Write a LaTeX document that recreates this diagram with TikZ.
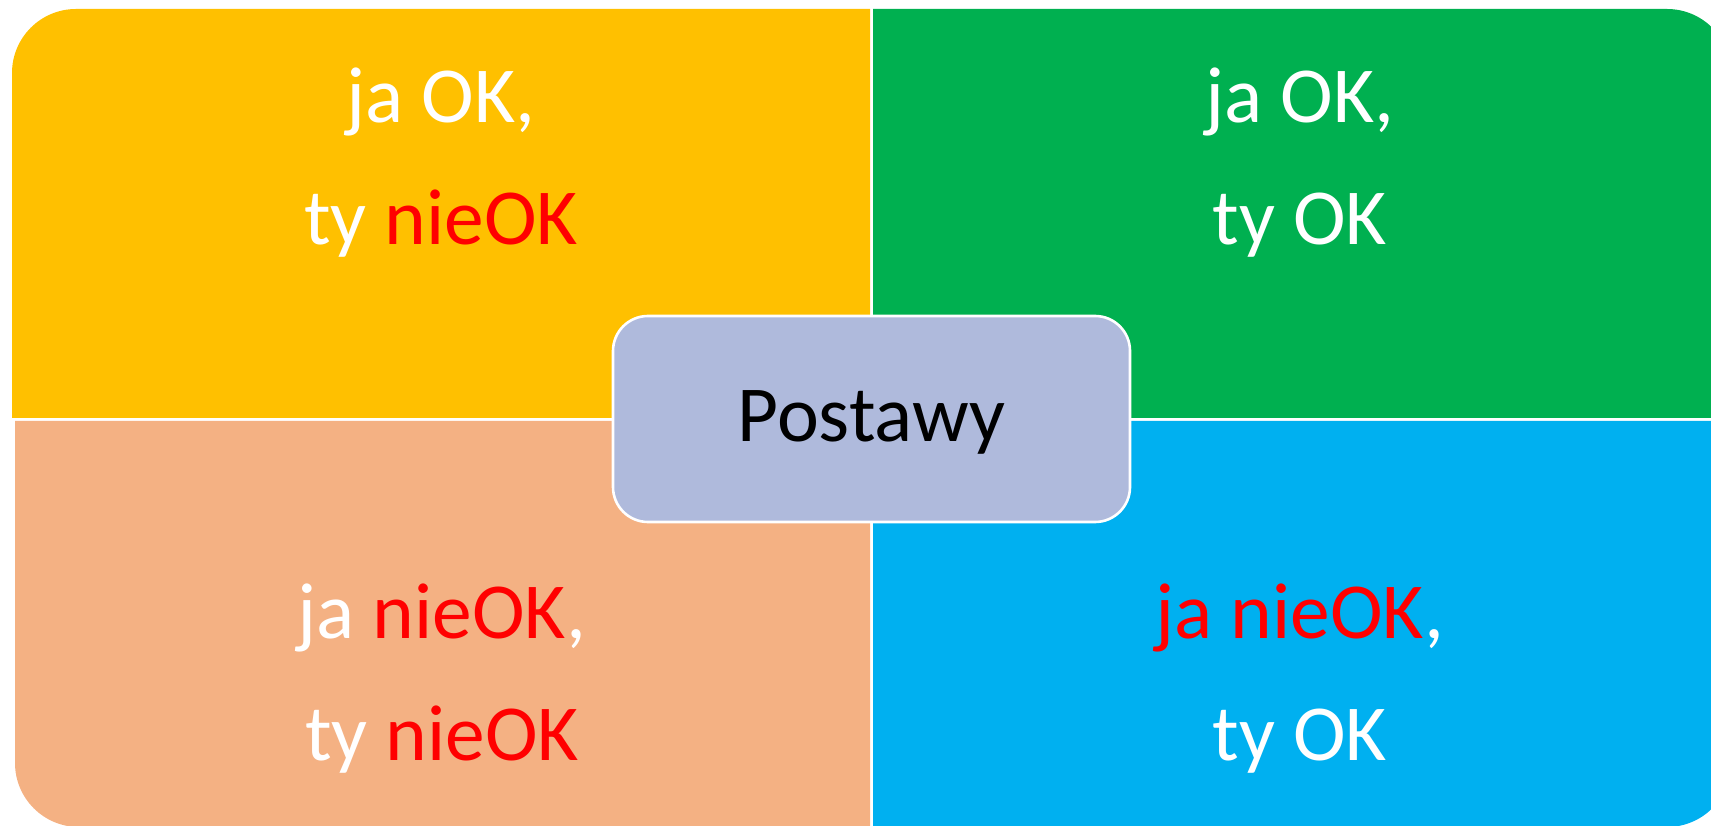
\documentclass[tikz,border=0pt]{standalone}
\usepackage{fontspec}
\setmainfont{Carlito}
\definecolor{qyellow}{HTML}{FFC000}
\definecolor{qgreen}{HTML}{00B050}
\definecolor{qpeach}{HTML}{F4B183}
\definecolor{qblue}{HTML}{00B0F0}
\definecolor{qcenter}{HTML}{AFBADC}
\definecolor{qred}{HTML}{FF0000}
\tikzset{
  qtext/.style={anchor=base, inner sep=0pt, text=white, font=\fontsize{39.7pt}{40pt}\selectfont},
  ctext/.style={anchor=base, inner sep=0pt, text=black, font=\fontsize{39.7pt}{40pt}\selectfont},
  cbox/.style={rectangle, rounded corners=17.5pt, fill=qcenter, draw=white, line width=1.3pt,
    minimum width=258.5pt, minimum height=103pt, inner sep=0pt}
}
\newcommand{\rd}[1]{\textcolor{qred}{#1}}
\begin{document}
\begin{tikzpicture}[x=0.5pt,y=0.5pt]
\useasboundingbox (0,0) rectangle (1711,825);
\clip (0,0) rectangle (1711,825);
% quadrants
\fill[qyellow] (12,407) -- (12,752) arc[start angle=180,end angle=90,radius=64] -- (870,816) -- (870,407) -- cycle;
\fill[qgreen] (873,407) -- (873,816) -- (1667,816) arc[start angle=90,end angle=0,radius=64] -- (1731,407) -- cycle;
\fill[qpeach] (15,404) -- (870,404) -- (870,-2) -- (79,-2) arc[start angle=270,end angle=180,radius=64] -- cycle;
\fill[qblue] (873,404) -- (1731,404) -- (1731,62) arc[start angle=0,end angle=-90,radius=64] -- (873,-2) -- cycle;
% texts
\node[qtext] (tl1) at (441,702) {ja OK,};
\node[qtext] (tl2) at (441,580) {ty \rd{nieOK}};
\node[qtext] (tr1) at (1300,702) {ja OK,};
\node[qtext] (tr2) at (1300,580) {ty OK};
\node[qtext] (bl1) at (442,187) {ja \rd{nieOK},};
\node[qtext] (bl2) at (442,65) {ty \rd{nieOK}};
\node[qtext] (br1) at (1300,187) {\rd{ja nieOK},};
\node[qtext] (br2) at (1300,65) {ty OK};
% center
\node[cbox] (center) at (871.5,406) {};
\node[ctext] (postawy) at (871.5,383) {Postawy};
\end{tikzpicture}
\end{document}
